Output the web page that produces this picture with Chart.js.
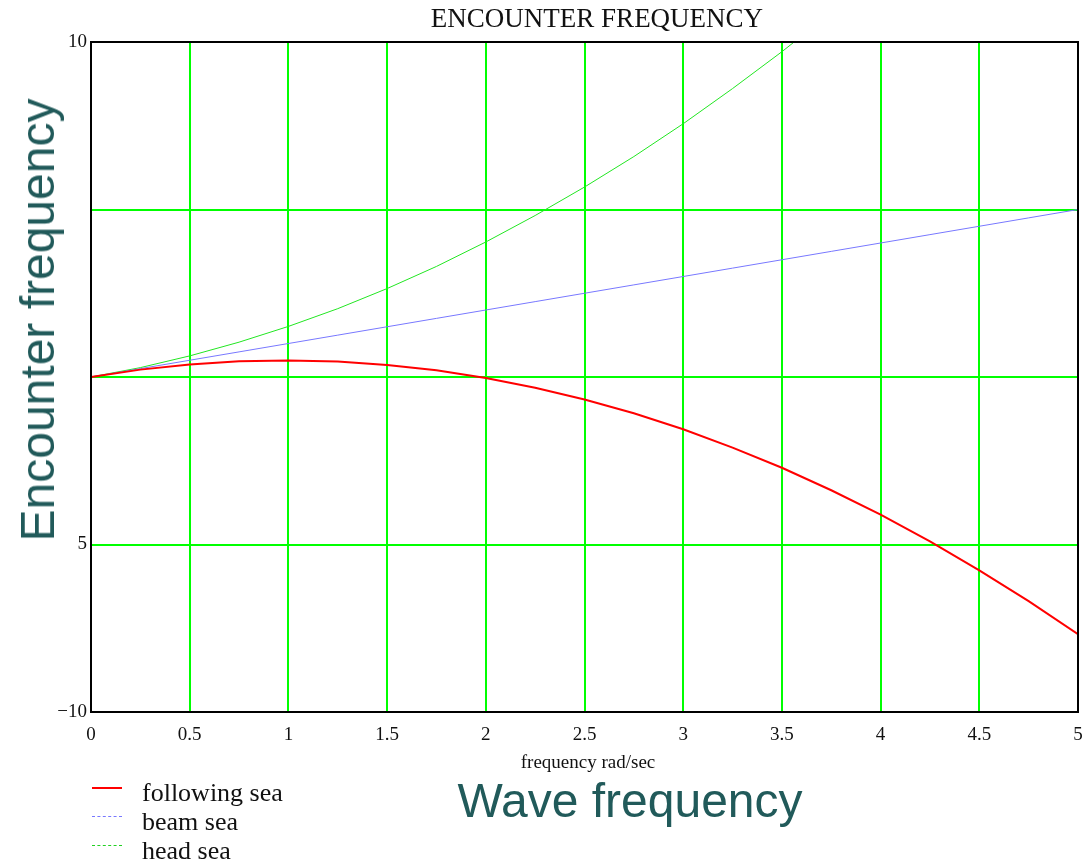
<!DOCTYPE html>
<html>
<head>
<meta charset="utf-8">
<script src="https://cdn.jsdelivr.net/npm/chart.js@4/dist/chart.umd.min.js"></script>
<style>
   body { margin: 0; background: #fff; }
   .wrap { position: relative; width: 1083px; height: 863px; overflow: hidden; }
   #myChart { position: absolute; left: 0; top: 0; }
   .txt { position: absolute; white-space: nowrap; line-height: 1; }
   .serif { font-family: "Liberation Serif", "Times New Roman", serif; color: #111; }
   .big { font-family: "Liberation Sans", Arial, sans-serif; font-size: 48px; color: #215a5a; }
   .key { position: absolute; left: 92px; width: 30px; }
</style>
</head>
<body>
<div class="wrap">
   <canvas id="myChart" width="1083" height="863"></canvas>
   <div class="txt serif" style="left:597px; top:5px; font-size:27px; transform:translateX(-50%);">ENCOUNTER FREQUENCY</div>
   <div class="txt big" style="left:38px; top:320px; transform:translate(-50%,-50%) rotate(-90deg);">Encounter frequency</div>
   <div class="txt serif" style="left:588px; top:752px; font-size:19px; transform:translateX(-50%);">frequency rad/sec</div>
   <div class="txt big" style="left:630px; top:777px; transform:translateX(-50%);">Wave frequency</div>

   <div class="key" style="top:787px; border-top:2px solid #ff0000;"></div>
   <div class="key" style="top:816px; border-top:1px dashed #7878ff;"></div>
   <div class="key" style="top:845px; border-top:1px dashed #22d022;"></div>
   <div class="txt serif" style="left:142px; top:780px; font-size:26px;">following sea</div>
   <div class="txt serif" style="left:142px; top:809px; font-size:26px;">beam sea</div>
   <div class="txt serif" style="left:142px; top:838px; font-size:26px;">head sea</div>
</div>
<script>
"use strict";

// values, every 0.25 rad/sec
const freq = [0, 0.25, 0.5, 0.75, 1, 1.25, 1.5, 1.75, 2, 2.25, 2.5, 2.75, 3, 3.25, 3.5, 3.75, 4, 4.25, 4.5, 4.75, 5];
const followingSea = [0, 0.22, 0.37, 0.47, 0.49, 0.46, 0.36, 0.2, -0.03, -0.32, -0.67, -1.08, -1.56, -2.11, -2.71, -3.38, -4.11, -4.91, -5.77, -6.69, -7.68];
const beamSea = [0, 0.25, 0.5, 0.75, 1, 1.25, 1.5, 1.75, 2, 2.25, 2.5, 2.75, 3, 3.25, 3.5, 3.75, 4, 4.25, 4.5, 4.75, 5];
const headSea = [0, 0.28, 0.63, 1.04, 1.51, 2.04, 2.64, 3.3, 4.03, 4.82, 5.67, 6.58, 7.56, 8.61, 9.71, 10.88, 12.11, 13.41, 14.77, 16.19, 17.68];

const yTickValues = [10, 5, 0, -5, -10];
const yTickLabels = ["10", "", "", "5", "\u221210"];

const toPoints = (ys) => ys.map((y, i) => ({ x: freq[i], y: y }));

// black frame round the plot
const frame = {
   id: "frame",
   afterDraw(chart) {
      const a = chart.chartArea;
      const c = chart.ctx;
      c.save();
      c.strokeStyle = "#000";
      c.lineWidth = 2;
      c.strokeRect(a.left, a.top, a.right - a.left, a.bottom - a.top);
      c.restore();
   },
};

const ctx = document.getElementById("myChart").getContext("2d");
const myChart = new Chart(ctx, {
   type: "line",
   data: {
      datasets: [
         {
            label: "following sea",
            data: toPoints(followingSea),
            borderColor: "#ff0000",
            borderWidth: 2,
         },
         {
            label: "beam sea",
            data: toPoints(beamSea),
            borderColor: "#7878ff",
            borderWidth: 1,
         },
         {
            label: "head sea",
            data: toPoints(headSea),
            borderColor: "#22e622",
            borderWidth: 1,
         },
      ],
   },
   options: {
      responsive: false,
      animation: false,
      layout: { padding: { top: 42, right: 5, left: 0, bottom: 0 } },
      elements: { point: { radius: 0 }, line: { tension: 0 } },
      plugins: { legend: { display: false }, title: { display: false }, tooltip: { enabled: false } },
      scales: {
         x: {
            type: "linear",
            min: 0,
            max: 5,
            afterFit: (s) => {
               s.height = 151;
               s.paddingLeft = 0;
               s.paddingRight = 0;
            },
            ticks: {
               stepSize: 0.5,
               padding: 12,
               color: "#111",
               maxRotation: 0,
               font: { family: "Liberation Serif", size: 19 },
               callback: (v) => String(v),
            },
            grid: { color: "#00ff00", lineWidth: 2, drawTicks: false },
            border: { color: "#000", width: 2 },
         },
         y: {
            min: -10,
            max: 10,
            afterFit: (s) => {
               s.width = 91;
               s.paddingTop = 0;
               s.paddingBottom = 0;
            },
            afterBuildTicks: (s) => { s.ticks = yTickValues.map((v) => ({ value: v })); },
            ticks: {
               padding: 4,
               color: "#111",
               font: { family: "Liberation Serif", size: 19 },
               callback: (v) => yTickLabels[yTickValues.indexOf(v)],
            },
            grid: { color: "#00ff00", lineWidth: 2, drawTicks: false },
            border: { color: "#000", width: 2 },
         },
      },
   },
   plugins: [frame],
});
</script>
</body>
</html>
